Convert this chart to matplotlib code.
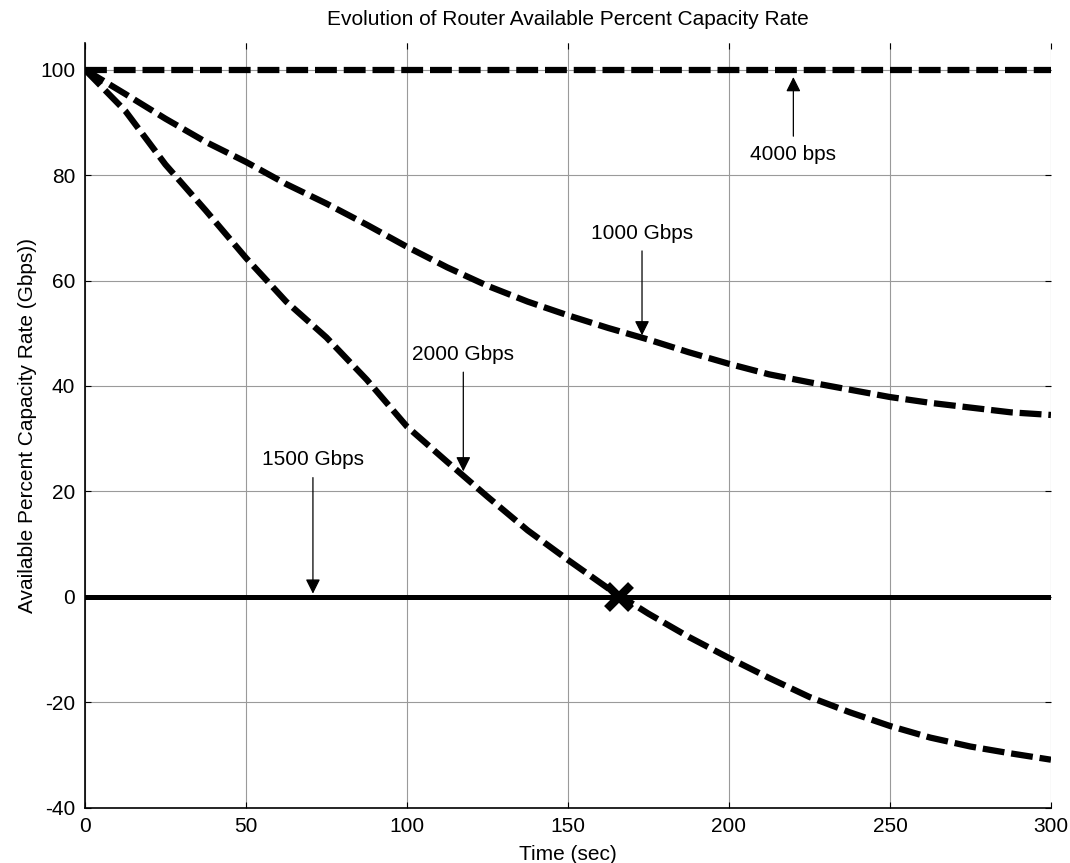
import matplotlib
matplotlib.use("Agg")
import matplotlib.pyplot as plt

plt.rcParams["font.family"] = ["Liberation Sans", "DejaVu Sans"]
plt.rcParams["axes.unicode_minus"] = False

# Tid (sek) og kapasitet for kurvene, lest av figuren
tid = [0, 12.5, 25, 37.5, 50, 62.5, 75, 87.5, 100, 112.5, 125, 137.5, 150,
       162.5, 175, 187.5, 200, 212.5, 225, 237.5, 250, 262.5, 275, 287.5, 300]
kap_1000 = [100, 95.4, 90.7, 86.3, 82.5, 78.3, 74.6, 70.6, 66.4, 62.5, 59.0, 56.0, 53.4,
            51.0, 48.8, 46.4, 44.2, 42.2, 40.7, 39.3, 37.9, 36.8, 35.9, 35.0, 34.5]
kap_2000 = [100, 92.2, 82.0, 73.3, 64.3, 56.0, 49.2, 41.2, 32.3, 25.6, 19.0, 12.6, 7.0,
            1.6, -3.2, -7.6, -11.6, -15.4, -19.0, -21.9, -24.5, -26.7, -28.4, -29.7, -30.9]
tid_flat = [0, 300]
kap_4000 = [100, 100]
kap_1500 = [0, 0]

# krysningspunkt
kryss_t = [166]
kryss_v = [0]

# etiketter: tekst, pilspiss, tekstposisjon
etiketter = [
    ("4000 bps", (220, 98.6), (220, 84.0)),
    ("1000 Gbps", (173, 49.6), (173, 69.0)),
    ("2000 Gbps", (117.5, 23.8), (117.5, 46.0)),
    ("1500 Gbps", (70.8, 0.6), (70.8, 26.0)),
]

fig = plt.figure(figsize=(10.7, 8.63), dpi=100)
ax = fig.add_axes([0.0794, 0.0641, 0.9028, 0.8857])

strek = (3.5, 1.1)
ax.plot(tid_flat, kap_4000, color="black", lw=4.5, dashes=strek)
ax.plot(tid, kap_1000, color="black", lw=4.5, dashes=strek)
ax.plot(tid, kap_2000, color="black", lw=4.5, dashes=strek)
ax.plot(tid_flat, kap_1500, color="black", lw=3.6)
ax.plot(kryss_t, kryss_v, linestyle="none", marker="x", color="black",
        markersize=17, markeredgewidth=6)

for tekst, spiss, pos in etiketter:
    ax.annotate(tekst, xy=spiss, xytext=pos, ha="center", va="center", fontsize=15,
                arrowprops=dict(arrowstyle="-|>", color="black", lw=0.9,
                                mutation_scale=22, shrinkA=4, shrinkB=0))

ax.set_xlim(0, 300)
ax.set_ylim(-40, 105)
ax.set_xticks(range(0, 301, 50))
ax.set_yticks(range(-40, 101, 20))
ax.grid(True, color="#9a9a9a", lw=0.8)
ax.set_axisbelow(True)
ax.tick_params(direction="in", top=True, right=True, length=4, labelsize=15, pad=7)
ax.spines["top"].set_visible(False)
ax.spines["right"].set_visible(False)
ax.spines["left"].set_linewidth(1.2)
ax.spines["bottom"].set_linewidth(1.2)

ax.set_title("Evolution of Router Available Percent Capacity Rate", fontsize=15, pad=13)
ax.set_xlabel("Time (sec)", fontsize=15, labelpad=6)
ax.set_ylabel("Available Percent Capacity Rate (Gbps))", fontsize=15, labelpad=2)

plt.savefig("out.png", dpi=100)
